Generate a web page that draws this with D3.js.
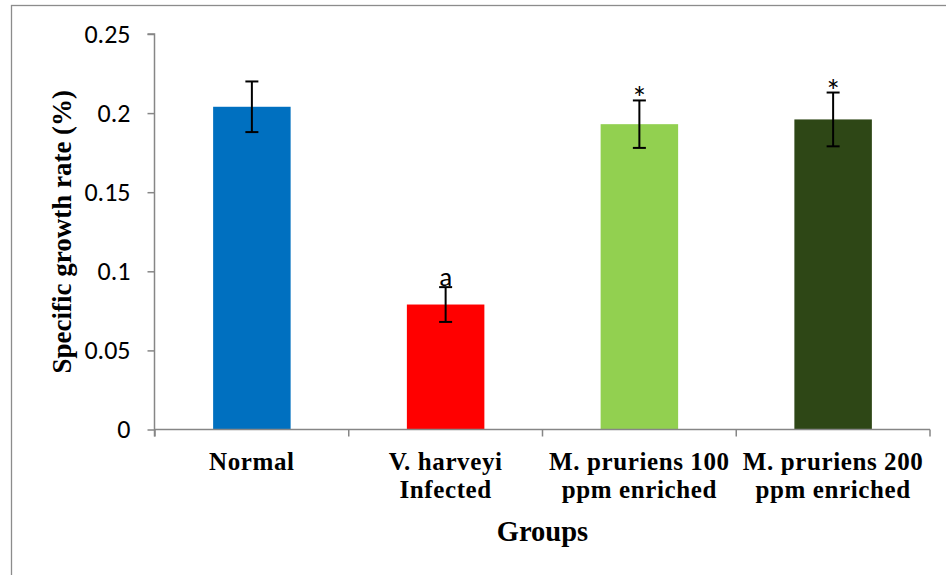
<!DOCTYPE html>
<html>
<head>
<meta charset="utf-8">
<script src="https://cdn.jsdelivr.net/npm/d3@7/dist/d3.min.js"></script>
<style>
  html, body { margin: 0; padding: 0; background: #fff; }
  svg { display: block; }
</style>
</head>
<body>
<svg id="chart" width="946" height="575"></svg>
<script>
// Specific growth rate per group (mean ± error)
const groups = ["Normal", "V. harveyi|Infected", "M. pruriens 100|ppm enriched", "M. pruriens 200|ppm enriched"];
const means = [0.204, 0.079, 0.193, 0.196];
const errors = [0.016, 0.011, 0.015, 0.017];
const marks = ["", "a", "*", "*"];
const colors = ["#0070C0", "#FF0000", "#92D050", "#2E4716"];
const yTicks = [0, 0.05, 0.1, 0.15, 0.2, 0.25];

const svg = d3.select("#chart");
const plot = { left: 155, right: 930, top: 34, bottom: 429.5 };
const sans = "Carlito, Calibri, Lato, sans-serif";
const serif = "'Liberation Serif', 'Times New Roman', serif";

// outer frame (only its top and left edges fall inside the view)
svg.append("rect")
  .attr("x", 11.5).attr("y", 5.5)
  .attr("width", 1000).attr("height", 1000)
  .attr("fill", "none").attr("stroke", "#8c8c8c").attr("stroke-width", 1.3);

const x = d3.scaleBand()
  .domain(groups)
  .range([plot.left, plot.right])
  .paddingInner(0.6)
  .paddingOuter(0.3);

const y = d3.scaleLinear()
  .domain([0, 0.25])
  .range([plot.bottom, plot.top]);

const axisColor = "#868686";

// y axis
const yAxis = svg.append("g")
  .attr("transform", `translate(${plot.left - 0.5},0)`)
  .call(d3.axisLeft(y).tickValues(yTicks).tickSize(7).tickPadding(17)
    .tickFormat(d => d === 0 ? "0" : String(+d.toFixed(2))));
yAxis.select(".domain").attr("stroke", axisColor).attr("stroke-width", 1.5)
  .attr("d", `M-7,${y(0.25)}H0V${plot.bottom + 7}`);
yAxis.selectAll(".tick line").attr("stroke", axisColor).attr("stroke-width", 1.5);
yAxis.selectAll(".tick text")
  .attr("fill", "#000")
  .style("font-family", sans)
  .style("font-size", "26px");

// bars
svg.append("g").selectAll("rect")
  .data(groups)
  .join("rect")
  .attr("x", d => x(d))
  .attr("y", (d, i) => y(means[i]))
  .attr("width", x.bandwidth())
  .attr("height", (d, i) => y(0) - y(means[i]))
  .attr("fill", (d, i) => colors[i]);

// x axis line with ticks at category boundaries
const xAxis = svg.append("g");
xAxis.append("line")
  .attr("x1", plot.left - 0.5).attr("x2", plot.right)
  .attr("y1", plot.bottom).attr("y2", plot.bottom)
  .attr("stroke", axisColor).attr("stroke-width", 1.5);
const boundaries = d3.range(groups.length + 1).map(i => plot.left + i * x.step());
xAxis.selectAll("line.tk")
  .data(boundaries)
  .join("line")
  .attr("class", "tk")
  .attr("x1", d => d).attr("x2", d => d)
  .attr("y1", plot.bottom).attr("y2", plot.bottom + 7)
  .attr("stroke", axisColor).attr("stroke-width", 1.5);

// error bars
const capHalf = 6.5;
const eb = svg.append("g").attr("stroke", "#000").attr("stroke-width", 2);
groups.forEach((g, i) => {
  const cx = x(g) + x.bandwidth() / 2;
  const top = y(means[i] + errors[i]);
  const bot = y(means[i] - errors[i]);
  eb.append("line").attr("x1", cx).attr("x2", cx).attr("y1", top).attr("y2", bot);
  eb.append("line").attr("x1", cx - capHalf).attr("x2", cx + capHalf).attr("y1", top).attr("y2", top);
  eb.append("line").attr("x1", cx - capHalf).attr("x2", cx + capHalf).attr("y1", bot).attr("y2", bot);
});

// significance marks above error bars
svg.append("g").selectAll("text")
  .data(groups)
  .join("text")
  .attr("x", d => x(d) + x.bandwidth() / 2)
  .attr("y", (d, i) => y(means[i] + errors[i]) + (marks[i] === "*" ? 9 : -1))
  .attr("text-anchor", "middle")
  .style("font-family", sans)
  .style("font-size", (d, i) => marks[i] === "*" ? "32px" : "27px")
  .attr("fill", "#000")
  .text((d, i) => marks[i]);

// category labels, one text element per line
const labels = svg.append("g")
  .style("font-family", serif)
  .style("font-weight", "bold")
  .style("font-size", "25px")
  .style("letter-spacing", "0.6px")
  .attr("fill", "#000");
groups.forEach(g => {
  g.split("|").forEach((line, j) => {
    labels.append("text")
      .attr("x", x(g) + x.bandwidth() / 2)
      .attr("y", 469.5 + j * 28)
      .attr("text-anchor", "middle")
      .text(line);
  });
});

// axis titles
svg.append("text")
  .attr("x", (plot.left + plot.right) / 2)
  .attr("y", 541)
  .attr("text-anchor", "middle")
  .style("font-family", serif)
  .style("font-weight", "bold")
  .style("font-size", "28.5px")
  .text("Groups");

svg.append("text")
  .attr("transform", `translate(71,${(plot.top + plot.bottom) / 2}) rotate(-90)`)
  .attr("text-anchor", "middle")
  .style("font-family", serif)
  .style("font-weight", "bold")
  .style("font-size", "27px")
  .text("Specific growth rate (%)");
</script>
</body>
</html>
